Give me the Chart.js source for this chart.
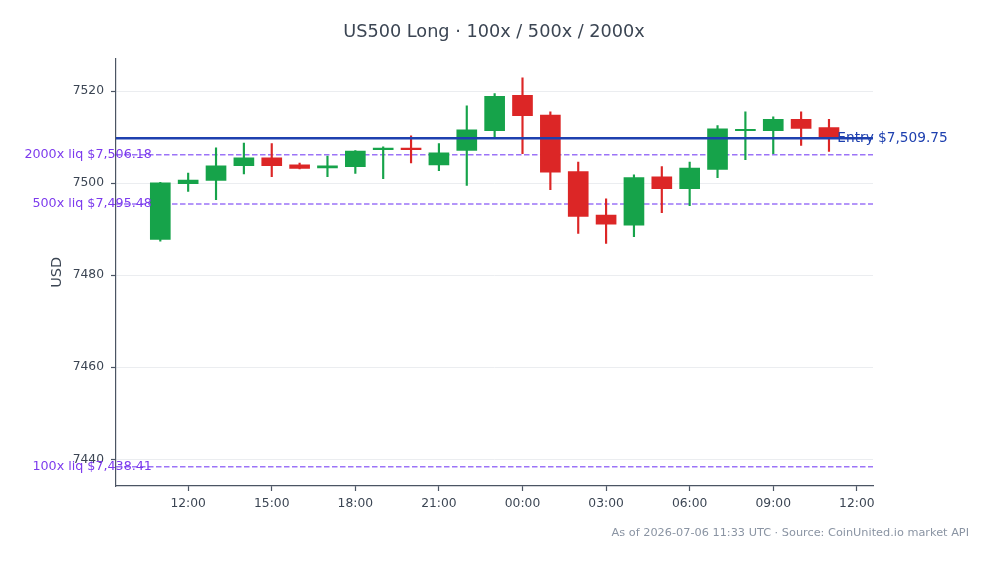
<!DOCTYPE html>
<html>
<head>
<meta charset="utf-8">
<title>US500 Long</title>
<script src="https://cdn.jsdelivr.net/npm/chart.js@4.4.1/dist/chart.umd.min.js"></script>
<style>
  html, body { margin: 0; padding: 0; background: #ffffff; }
  #wrap { width: 993px; height: 564px; }
</style>
</head>
<body>
<div id="wrap"><canvas id="chart-us500" width="993" height="564"></canvas></div>
<script>
// Data -------------------------------------
// --> hourly candles, hour counted from 00:00 of the first day (24 = 00:00 next day)

const candle_hours = [11, 12, 13, 14, 15, 16, 17, 18, 19, 20, 21, 22, 23,
                      24, 25, 26, 27, 28, 29, 30, 31, 32, 33, 34, 35]
const opens  = [7487.8, 7499.9, 7500.6, 7503.8, 7505.5, 7504.0, 7503.3, 7503.6, 7507.3, 7507.5, 7504.0, 7507.1, 7511.4,
                7519.1, 7514.8, 7502.5, 7493.1, 7490.9, 7501.4, 7498.8, 7503.0, 7511.4, 7511.4, 7513.9, 7512.1]
const highs  = [7500.2, 7502.2, 7507.7, 7508.7, 7508.6, 7504.4, 7505.9, 7507.1, 7507.9, 7510.3, 7508.6, 7516.8, 7519.5,
                7522.9, 7515.5, 7504.6, 7496.6, 7501.8, 7503.6, 7504.6, 7512.5, 7515.5, 7514.4, 7515.5, 7513.9]
const lows   = [7487.4, 7498.2, 7496.4, 7502.0, 7501.4, 7503.1, 7501.4, 7502.1, 7501.0, 7504.4, 7502.7, 7499.5, 7510.0,
                7506.4, 7498.6, 7489.1, 7486.9, 7488.4, 7493.6, 7495.1, 7501.2, 7505.1, 7506.4, 7508.2, 7506.9]
const closes = [7500.1, 7500.7, 7503.8, 7505.5, 7503.8, 7503.2, 7503.8, 7507.0, 7507.6, 7507.3, 7506.6, 7511.6, 7518.9,
                7514.7, 7502.4, 7492.8, 7491.1, 7501.2, 7498.8, 7503.3, 7511.8, 7511.7, 7513.9, 7511.9, 7510.0]

const entry_price = 7509.75
const liq_names = ['2000x', '500x', '100x']
const liq_prices = [7506.18, 7495.48, 7438.41]

const x_tick_hours = [12, 15, 18, 21, 24, 27, 30, 33, 36]
const x_tick_labels = ['12:00', '15:00', '18:00', '21:00', '00:00', '03:00', '06:00', '09:00', '12:00']
const y_ticks = [7440, 7460, 7480, 7500, 7520]

// axis limits
const x_min = 9.41
const x_max = 36.58
const y_min = 7434.2
const y_max = 7527.1

// Color settings -------------------------------------

const color_up = '#16a34a'
const color_down = '#dc2626'
const color_entry = '#1e40af'
const color_liq_line = 'rgba(139, 92, 246, 0.85)'
const color_liq_text = '#7c3aed'
const color_text = '#3b4553'
const color_axis = '#4b5563'
const color_grid = '#ebedf0'
const color_footer = '#8a94a3'
const font_family = '"DejaVu Sans", sans-serif'

// Datasets -------------------------------------

const candle_colors = candle_hours.map((h, i) => closes[i] >= opens[i] ? color_up : color_down)

const bodies = {
    type: 'bar',
    label: 'Body',
    data: candle_hours.map((h, i) => ({ x: h, y: [opens[i], closes[i]] })),
    backgroundColor: candle_colors,
    borderWidth: 0,
    barThickness: 20,
    minBarLength: 1.5,
    grouped: false,
    order: 1,
}

const wicks = {
    type: 'bar',
    label: 'Wick',
    data: candle_hours.map((h, i) => ({ x: h, y: [lows[i], highs[i]] })),
    backgroundColor: candle_colors,
    borderWidth: 0,
    barThickness: 1.5,
    grouped: false,
    order: 2,
}

const entry_line = {
    type: 'line',
    label: 'Entry',
    data: [{ x: x_min, y: entry_price }, { x: x_max, y: entry_price }],
    borderColor: color_entry,
    borderWidth: 2.5,
    pointRadius: 0,
    order: 0,
}

const liq_lines = liq_prices.map((p, i) => ({
    type: 'line',
    label: liq_names[i] + ' liq',
    data: [{ x: x_min, y: p }, { x: x_max, y: p }],
    borderColor: color_liq_line,
    borderWidth: 1.5,
    borderDash: [5.5, 2.5],
    pointRadius: 0,
    order: 3,
}))

function money(v) {
    return '$' + v.toLocaleString('en-US', { minimumFractionDigits: 2, maximumFractionDigits: 2 })
}

// Plugin for title, footer and line labels -------------------------------------

const text_plugin = {
    id: 'text_plugin',
    afterDraw(chart) {
        const ctx = chart.ctx
        const xs = chart.scales.x
        const ys = chart.scales.y
        ctx.save()

        // title
        ctx.fillStyle = color_text
        ctx.font = '17.7px ' + font_family
        ctx.textAlign = 'center'
        ctx.textBaseline = 'middle'
        ctx.fillText('US500 Long · 100x / 500x / 2000x', 494, 32)

        // footer
        ctx.fillStyle = color_footer
        ctx.font = '11.3px ' + font_family
        ctx.textAlign = 'right'
        ctx.fillText('As of 2026-07-06 11:33 UTC · Source: CoinUnited.io market API', 969, 533)

        // liquidation labels
        ctx.fillStyle = color_liq_text
        ctx.font = '12.7px ' + font_family
        ctx.textAlign = 'right'
        liq_prices.forEach(function (p, i) {
            ctx.fillText(liq_names[i] + ' liq ' + money(p), xs.getPixelForValue(10.7), ys.getPixelForValue(p))
        })

        // entry label
        ctx.fillStyle = color_entry
        ctx.font = '13.7px ' + font_family
        ctx.textAlign = 'left'
        ctx.fillText('Entry ' + money(entry_price), xs.getPixelForValue(35.3), ys.getPixelForValue(entry_price))

        ctx.restore()
    }
}

// Config -------------------------------------

const config = {
    type: 'bar',
    data: {
        datasets: [entry_line, bodies, wicks].concat(liq_lines)
    },
    options: {
        responsive: false,
        animation: false,
        devicePixelRatio: 1,
        layout: {
            padding: { top: 58.5, right: 120, bottom: 48, left: 0 }
        },
        plugins: {
            legend: { display: false },
            tooltip: { enabled: false },
            title: { display: false },
        },
        scales: {
            x: {
                type: 'linear',
                min: x_min,
                max: x_max,
                bounds: 'data',
                offset: false,
                grid: {
                    offset: false,
                    drawOnChartArea: false,
                    drawTicks: true,
                    tickLength: 5,
                    tickColor: color_axis,
                    tickWidth: 1.2,
                },
                border: { display: true, color: color_axis, width: 1.2 },
                ticks: {
                    autoSkip: false,
                    maxRotation: 0,
                    padding: 5.5,
                    color: color_text,
                    font: { family: font_family, size: 12.3 },
                    callback: function (value) {
                        return x_tick_labels[x_tick_hours.indexOf(value)]
                    },
                },
                afterBuildTicks: function (scale) {
                    scale.ticks = x_tick_hours.map(v => ({ value: v }))
                },
                afterFit: function (scale) {
                    scale.height = 30
                },
            },
            y: {
                type: 'linear',
                min: y_min,
                max: y_max,
                bounds: 'data',
                grid: {
                    color: color_grid,
                    lineWidth: 1,
                    drawTicks: true,
                    tickLength: 5,
                    tickColor: color_axis,
                    tickWidth: 1.2,
                },
                border: { display: true, color: color_axis, width: 1.2 },
                ticks: {
                    padding: 7,
                    color: color_text,
                    font: { family: font_family, size: 12.3 },
                    callback: function (value) {
                        return String(value)
                    },
                },
                title: {
                    display: true,
                    text: 'USD',
                    color: color_text,
                    font: { family: font_family, size: 14.5 },
                    padding: { top: 48.3, bottom: 0 },
                },
                afterBuildTicks: function (scale) {
                    scale.ticks = y_ticks.map(v => ({ value: v }))
                },
                afterFit: function (scale) {
                    scale.width = 116
                },
            },
        },
    },
    plugins: [text_plugin],
}

const context = document.getElementById('chart-us500').getContext('2d')
const chart = new Chart(context, config)
</script>
</body>
</html>
